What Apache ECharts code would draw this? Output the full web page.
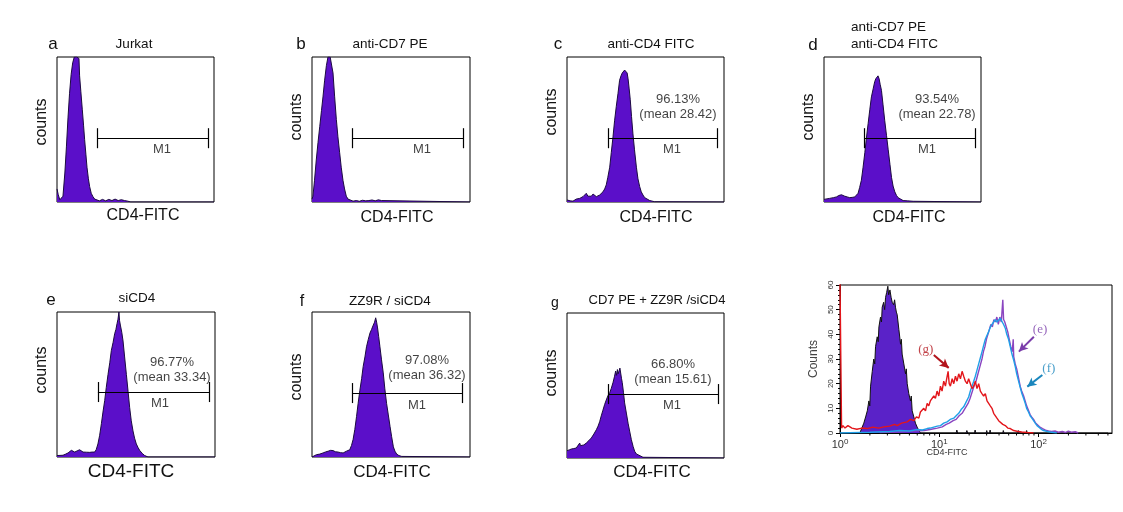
<!DOCTYPE html>
<html><head><meta charset="utf-8">
<script src="https://cdn.jsdelivr.net/npm/echarts@6/dist/echarts.min.js"></script>
<style>html,body{margin:0;padding:0;background:#fff}#c{width:1123px;height:512px}</style>
</head><body><div id="c"></div>
<script>
// ---------- DATA (x = channel position 0-100 across the plot, y = relative counts 0-100) ----------
const histA = [[0,9],[0.8,5],[1.8,1.5],[2.8,1.5],[3.8,4],[5,20],[6,38],[7,58],[8,75],[9,88],[10,96],[11,100],[12.5,100],[14,99],[14.4,87],[15.2,76],[16.1,64],[16.9,53],[17.6,43],[18.4,33],[19.1,24],[20,16],[20.8,10.6],[21.8,6],[22.9,3.7],[24,2],[25,1.4],[27,0.8],[29,1.8],[31,0.8],[33,1.8],[35,1],[37,2],[39,1],[41,1.6],[43,1],[45,0.6],[47,0],[100,0]];
const histB = [[0,2],[0.6,4],[1.6,15],[2.7,29],[3.8,41],[4.9,52],[6,63],[7,73],[8,84],[9.1,94],[10.1,100],[11.5,100],[12.7,100],[13.3,89],[14.3,73],[15.4,57],[16.4,45],[17.5,34],[18.5,24],[19.6,15],[20.6,9],[21.7,4],[22.8,2],[23.8,1],[26,0.6],[28,1],[30,0.5],[32,1.2],[34,0.8],[36,1],[38,1.4],[40,0.8],[42,1.5],[44,1],[45,0],[100,0]];
const histC = [[0,1.4],[2,0.8],[3.8,0.6],[5.9,2],[8.1,2.5],[10.2,3.7],[12.3,6],[13.3,4],[14.4,3.2],[15.5,4],[16.6,5.5],[17.6,4.5],[18.7,3.7],[19.8,4.5],[20.8,4.8],[22,6],[22.9,7],[24,9],[25,11.8],[26,17],[27.2,24],[28.2,34],[29.3,45],[30.3,56],[31.4,66],[32.5,75],[33.5,84],[34.4,87],[35.2,89],[36,88],[36.7,91],[37.2,90],[37.8,92],[38.3,89],[38.9,85],[39.6,78],[40.3,70.5],[41.1,59],[42,47],[43,36],[44.2,24],[45.2,16],[46.3,10.6],[47.3,7],[48.4,4.8],[49.5,3],[50.5,2],[52.7,1],[55.8,0.2],[57,0],[100,0]];
const histD = [[0,1.8],[3.6,2.5],[6,3],[7.9,3.5],[9.5,4.5],[11.1,5],[12.2,4.6],[13.2,4],[14.8,3.5],[16.4,3],[18,3.2],[19.6,3.5],[20.7,4.5],[21.7,6],[22.7,10],[23.8,15],[24.9,24],[26,34],[27,44],[28.1,54],[29.2,64],[30.2,72.5],[31.3,78],[32.3,83],[33,85],[33.8,86],[34.4,87],[35.1,85],[35.8,81],[36.6,77],[37.6,67],[38.7,56],[39.8,46],[40.9,36],[42,26],[43,17],[44,11],[45.1,7],[46.2,4.5],[47.2,3],[48.8,2],[50.4,1],[53,0.8],[56.8,0.5],[57.5,0],[100,0]];
const histE = [[0,1],[3.8,1.2],[5.5,2],[7,2.8],[8,3.6],[9.1,4.6],[10.1,4],[11.2,3.4],[12.7,4.2],[14.3,5],[15.4,4.2],[16.5,3.4],[18.6,3.3],[20.7,3.2],[22.2,3.4],[23.8,3.4],[24.8,5],[25.9,9],[27,15],[28.1,23],[29.1,31],[30.2,39],[31.2,48],[32.3,57],[33.4,65],[34.4,73.5],[35.5,79],[36.5,85],[37.3,88],[38,92],[38.6,95],[39.2,100],[39.6,94],[40.1,91],[41,86],[41.8,80],[42.8,69],[43.9,57],[45,45],[46,34],[47,25],[48.1,18],[49.1,13],[50.2,9],[51.3,6.5],[52.3,4.6],[53.9,2.5],[55.5,1],[57.6,0],[100,0]];
const histF = [[0,0],[1,0.8],[2.8,1.6],[4.9,2],[7,2.8],[8.6,3.5],[10.2,4],[11.8,4.6],[13.3,4.4],[14.9,3.6],[16.5,3.4],[18.1,3],[19.7,2.8],[20.8,3.4],[21.8,4],[22.9,4.5],[23.9,5],[25,8],[26,12],[27.1,19],[28.2,28],[29.2,37],[30.3,46],[31.4,54],[32.4,62.5],[33.5,69],[34.5,76],[35.6,81],[36.7,85.5],[37.7,88],[38.8,91],[39.6,93],[40.3,96],[40.9,93],[41.5,89],[42.2,83],[43,76],[44,67],[45.1,58],[46.1,47],[47.2,37],[48.3,29],[49.4,21],[50.4,14],[51.5,7],[52.5,4],[53.6,2],[55,1],[56.8,0.4],[57.5,0],[100,0]];
const histG = [[0,5],[1.4,5.6],[2.8,6.2],[4.3,6.5],[5.9,6.9],[7,8],[8.1,10.3],[8.6,8.5],[9.1,8],[10.7,9],[12.3,10.3],[13.9,12],[15.5,13.8],[17.1,16.5],[18.7,19.5],[19.8,22],[20.8,25],[21.8,29],[22.9,33],[24,37],[25,40],[26.1,43],[27.2,45],[28.2,48],[29.3,52],[30.2,56],[31,60],[31.6,57],[32.1,61],[32.6,58],[33.1,59],[33.7,62],[34.2,61],[34.7,55],[35.2,52],[36,45],[36.7,38],[37.8,31],[38.9,24],[40,18],[41,12.6],[42.1,8],[43.1,4.6],[44.2,2.8],[45.2,1.6],[48.4,0.5],[49.5,0],[100,0]];

// M1 gate: [start, end, level]
const gateA = [25.9, 96.6, 44];
const gateB = [25.3, 95.6, 44];
const gateC = [26.1, 95.5, 44];
const gateD = [25.5, 96.2, 44];
const gateE = [25.9, 96.2, 44.8];
const gateF = [25.3, 94.9, 44.1];
const gateG = [26.1, 96.2, 44.1];

const statsC = '96.13%\n(mean 28.42)';
const statsD = '93.54%\n(mean 22.78)';
const statsE = '96.77%\n(mean 33.34)';
const statsF = '97.08%\n(mean 36.32)';
const statsG = '66.80%\n(mean 15.61)';

const panelLetters = ['a','b','c','d','e','f','g'];
const panelTitles = ['Jurkat','anti-CD7 PE','anti-CD4 FITC','anti-CD7 PE\nanti-CD4 FITC','siCD4','ZZ9R / siCD4','CD7 PE + ZZ9R /siCD4'];

// Overlay panel: x = log10(CD4-FITC), y = counts
const ovControl = [[0.2,0],[0.224,2.4],[0.24,4],[0.258,6.5],[0.275,9],[0.291,13],[0.3,11],[0.308,19],[0.325,25],[0.34,30],[0.35,28],[0.358,35],[0.375,39],[0.385,37],[0.392,43],[0.408,47],[0.418,45],[0.425,51],[0.44,53],[0.45,50],[0.459,55],[0.47,57],[0.482,59.5],[0.49,56],[0.503,58],[0.515,55],[0.526,53],[0.54,52],[0.55,54],[0.559,51],[0.568,49],[0.576,48],[0.593,42],[0.61,36],[0.618,38],[0.626,32],[0.643,28],[0.66,24],[0.668,26],[0.677,20],[0.693,16],[0.71,13],[0.718,15],[0.727,9],[0.744,6.5],[0.76,4],[0.777,2.4],[0.795,1],[0.811,0],[1.17,0],[1.177,1.2],[1.185,0],[1.27,0],[1.278,1],[1.286,0],[1.355,0],[1.361,1.2],[1.368,0],[1.472,0],[1.478,1],[1.485,0],[1.506,0],[1.512,1.2],[1.518,0],[1.64,0],[1.645,1],[1.652,0],[1.79,0],[1.796,1],[1.803,0],[1.875,0],[1.88,1],[1.887,0],[2.7,0]];
const ovE = [[0.4,0.2],[0.6,0.5],[0.75,0.8],[0.85,1],[0.92,1.5],[0.98,2],[1.03,2.5],[1.07,3.5],[1.1,4],[1.14,5],[1.17,5.5],[1.2,7],[1.23,8],[1.26,10],[1.29,12],[1.31,14],[1.33,16.5],[1.35,19],[1.37,21],[1.39,24],[1.41,27],[1.43,30],[1.445,33],[1.46,35],[1.475,38],[1.49,40],[1.505,42],[1.52,44],[1.535,43],[1.55,46],[1.565,45],[1.58,47],[1.595,44],[1.61,47],[1.625,45],[1.64,54],[1.648,46],[1.66,45],[1.675,43],[1.69,41],[1.705,38],[1.72,35],[1.735,33],[1.745,38],[1.75,31],[1.765,28],[1.78,26],[1.8,22],[1.815,19],[1.83,17],[1.85,15],[1.865,13],[1.88,11],[1.9,9],[1.915,7.5],[1.93,6.5],[1.95,5.5],[1.97,4],[1.99,3.5],[2.01,2.5],[2.04,1.8],[2.07,1.2],[2.1,0.8],[2.13,0.6],[2.17,0.8],[2.2,0.3],[2.24,0.6],[2.27,0.2],[2.3,0.8],[2.33,0.3],[2.37,0.5],[2.4,0]];
const ovF = [[0,0],[0.3,0.3],[0.5,0.6],[0.6,1],[0.7,0.8],[0.777,1.4],[0.83,1.2],[0.878,1.8],[0.91,2],[0.945,2.4],[0.98,2.8],[1.012,3],[1.045,4],[1.079,4.5],[1.11,5.5],[1.146,6],[1.17,7],[1.196,8],[1.22,9.5],[1.246,10.6],[1.27,12.5],[1.296,14.6],[1.313,17],[1.33,19],[1.347,21],[1.363,23],[1.38,25.5],[1.397,28],[1.414,30.5],[1.431,33],[1.447,35.5],[1.464,38],[1.48,39.5],[1.497,41],[1.515,43],[1.531,44],[1.548,45],[1.564,46],[1.58,45],[1.598,45],[1.615,46.5],[1.631,46],[1.648,44],[1.665,42.5],[1.68,40],[1.698,38],[1.715,35],[1.732,32],[1.75,29.5],[1.765,27],[1.78,24],[1.799,21],[1.815,18.5],[1.832,16],[1.85,14],[1.866,12],[1.88,10],[1.899,8.5],[1.915,7],[1.933,6],[1.95,5],[1.967,4],[1.985,3],[2.0,2.4],[2.025,1.6],[2.05,1],[2.08,0.7],[2.117,0.4],[2.15,0.2],[2.184,0]];
const ovG = [[0,62],[0.004,62],[0.008,31],[0.012,31],[0.016,2],[0.03,3],[0.05,2],[0.08,3],[0.12,2],[0.17,1.5],[0.22,2],[0.275,1.8],[0.33,2.4],[0.39,2],[0.442,2.5],[0.5,2.8],[0.55,3.5],[0.576,3],[0.62,4],[0.677,4.5],[0.71,5.5],[0.744,5],[0.77,6.5],[0.794,6],[0.81,8.5],[0.827,8],[0.844,10],[0.861,9],[0.878,12],[0.894,11],[0.91,13],[0.928,12.6],[0.945,15],[0.961,14],[0.978,17],[0.995,15],[1.012,19],[1.028,17],[1.045,21],[1.062,19],[1.075,22],[1.089,25],[1.1,20],[1.112,19],[1.13,22],[1.146,20],[1.163,23],[1.179,21],[1.196,24],[1.213,22],[1.23,25],[1.246,23],[1.263,21],[1.28,20],[1.296,22],[1.313,20],[1.33,18],[1.347,19],[1.363,21],[1.38,18],[1.397,20],[1.414,17],[1.43,16],[1.447,15],[1.464,16],[1.481,13],[1.497,12.5],[1.514,11],[1.531,10],[1.548,8],[1.565,7.5],[1.581,6],[1.598,5],[1.615,4.5],[1.64,3.5],[1.665,3],[1.69,2],[1.715,1.8],[1.75,1],[1.782,0.7],[1.83,0.4],[1.883,0.2],[1.95,0]];
const ovYTicks = [0, 60, 10];          // min, max, step
const ovXDecades = [0, 1, 2];          // labelled decades 10^0 .. 10^2
const ovMinorTicks = [2,3,4,5,6,7,8,9,20,30,40,50,60,70,80,90,200,300,400,500];
const ovLabels = ['(g)','(e)','(f)'];

// ---------- LAYOUT ----------
const FONT = 'Liberation Sans, Arial, sans-serif';
const PURPLE = '#5B0FC9';
const hists = [histA,histB,histC,histD,histE,histF,histG];
const gates = [gateA,gateB,gateC,gateD,gateE,gateF,gateG];
const stats = [null,null,statsC,statsD,statsE,statsF,statsG];
const L = [
  {g:[57,57,157,145],  letter:[53,44,17],  title:[134,44,'center'], counts:[42,122], xn:[143,216,16], st:[70.7,65.5], m1:[66.9,36.6]},
  {g:[312,57,158,145], letter:[301,44,17], title:[390,44,'center'], counts:[297,117], xn:[397,218,16], st:null, m1:[69.6,36.6]},
  {g:[567,57,157,145], letter:[558,44,17], title:[651,44,'center'], counts:[552,112], xn:[656,218,16], st:[70.7,65.5], m1:[66.9,36.6]},
  {g:[824,57,157,145], letter:[813,45,17], title:[851,36,'left'],   counts:[809,117], xn:[909,218,16], st:[72,65.5], m1:[65.6,36.6]},
  {g:[57,312,158,145], letter:[51,300,17], title:[137,298,'center'],counts:[42,370], xn:[131,472,19], st:[72.8,60.3], m1:[65.2,37.2]},
  {g:[312,312,158,145],letter:[302,302,16],title:[390,301,'center'],counts:[297,377], xn:[392,472,17], st:[72.8,61.4], m1:[66.5,35.9]},
  {g:[567,313,157,145],letter:[555,303,14],title:[657,300,'center'],counts:[552,373], xn:[652,472,17], st:[67.5,59.7], m1:[66.9,36.6]}
];
const OV = {g:[840,285,272,148]};

const grid=[], xAxis=[], yAxis=[], series=[], graphic=[];
const txt = (x,y,text,size,opt={}) => graphic.push(Object.assign({type:'text', x, y, silent:true,
  style:{text, fontSize:size, fontFamily:FONT, fill:'#111', align:opt.align||'center', verticalAlign:'middle', lineHeight:opt.lh||size+3}}, opt.rot?{rotation:opt.rot}:{}));

L.forEach((p,i)=>{
  grid.push({left:p.g[0], top:p.g[1], width:p.g[2], height:p.g[3], show:true, borderColor:'#000', borderWidth:1, backgroundColor:'transparent'});
  xAxis.push({type:'value', gridIndex:i, min:0, max:100, show:false});
  yAxis.push({type:'value', gridIndex:i, min:0, max:100, show:false});
  const gt = gates[i], cap = 6.9;
  series.push({type:'line', xAxisIndex:i, yAxisIndex:i, data:hists[i], symbol:'none', clip:true,
    lineStyle:{color:'#1c0a40', width:1}, areaStyle:{color:PURPLE, opacity:1},
    markLine:{silent:true, symbol:['none','none'], label:{show:false}, lineStyle:{color:'#000', width:1.2, type:'solid'},
      data:[[{coord:[gt[0],gt[2]]},{coord:[gt[1],gt[2]]}],
            [{coord:[gt[0],gt[2]-cap]},{coord:[gt[0],gt[2]+cap]}],
            [{coord:[gt[1],gt[2]-cap]},{coord:[gt[1],gt[2]+cap]}]]}});
  const labs = [{name:'M1', value:p.m1}];
  if (stats[i]) labs.push({name:stats[i], value:p.st});
  series.push({type:'scatter', xAxisIndex:i, yAxisIndex:i, symbolSize:0, silent:true, data:labs,
    label:{show:true, position:'inside', formatter:'{b}', color:'#111', fontSize:13, fontFamily:FONT, lineHeight:15}});
  txt(p.letter[0], p.letter[1], panelLetters[i], p.letter[2]);
  txt(p.title[0], p.title[1], panelTitles[i], i===6?13:13.5, {align:p.title[2], lh:17});
  txt(p.counts[0], p.counts[1], 'counts', 16, {rot:Math.PI/2});
  txt(p.xn[0], p.xn[1], 'CD4-FITC', p.xn[2]);
});

// ---------- overlay panel ----------
const oi = 7;
grid.push({left:OV.g[0], top:OV.g[1], width:OV.g[2], height:OV.g[3], show:true, borderColor:'#000', borderWidth:1});
xAxis.push({type:'value', gridIndex:oi, min:0, max:2.74, interval:1,
  axisLine:{lineStyle:{color:'#000'}}, axisTick:{length:4, lineStyle:{color:'#000'}}, splitLine:{show:false},
  axisLabel:{margin:5, showMaxLabel:false, color:'#333', fontFamily:FONT,
    formatter:v=> ovXDecades.indexOf(v)>=0 ? '{b|10}{s|'+v+'}' : '',
    rich:{b:{fontSize:11, color:'#333', fontFamily:FONT}, s:{fontSize:8, color:'#333', fontFamily:FONT, verticalAlign:'bottom', padding:[0,0,6,0]}}}});
yAxis.push({type:'value', gridIndex:oi, min:ovYTicks[0], max:ovYTicks[1], interval:ovYTicks[2],
  name:'Counts', nameLocation:'middle', nameGap:20, nameTextStyle:{fontSize:12, color:'#444', fontFamily:FONT},
  axisLine:{show:true, lineStyle:{color:'#000'}}, axisTick:{show:true, length:4, lineStyle:{color:'#000'}},
  minorTick:{show:true, splitNumber:5, length:2, lineStyle:{color:'#000'}}, splitLine:{show:false},
  axisLabel:{rotate:90, fontSize:8, margin:5, color:'#333', fontFamily:FONT}});
series.push({type:'line', xAxisIndex:oi, yAxisIndex:oi, data:ovControl, symbol:'none', clip:true,
  lineStyle:{color:'#111', width:1}, areaStyle:{color:'#5a22c8', opacity:1}});
series.push({type:'line', xAxisIndex:oi, yAxisIndex:oi, data:ovE, symbol:'none', clip:true,
  lineStyle:{color:'#8a45c0', width:1.4},
  markLine:{silent:true, symbol:['none','arrow'], symbolSize:[7,9], label:{show:false}, lineStyle:{color:'#7A3DAA', width:2, type:'solid'},
    data:[[{coord:[1.953,39]},{coord:[1.802,33]}]]}});
series.push({type:'line', xAxisIndex:oi, yAxisIndex:oi, data:ovF, symbol:'none', clip:true,
  lineStyle:{color:'#1f9fe8', width:1.4},
  markLine:{silent:true, symbol:['none','arrow'], symbolSize:[7,9], label:{show:false}, lineStyle:{color:'#1a86bd', width:2, type:'solid'},
    data:[[{coord:[2.038,23.5]},{coord:[1.887,18.8]}]]}});
series.push({type:'line', xAxisIndex:oi, yAxisIndex:oi, data:ovG, symbol:'none', clip:true,
  lineStyle:{color:'#e3161b', width:1.4},
  markLine:{silent:true, symbol:['none','arrow'], symbolSize:[7,9], label:{show:false}, lineStyle:{color:'#b3141c', width:2, type:'solid'},
    data:[[{coord:[0.945,31.6]},{coord:[1.095,26.4]}]]}});
const ovLabelColors = ['#b3141c','#7A3DAA','#1a86bd'];
const ovLabelPos = [[0.864,33.9],[2.015,41.8],[2.104,26]];
series.push({type:'scatter', xAxisIndex:oi, yAxisIndex:oi, symbolSize:0, silent:true,
  data: ovLabels.map((t,k)=>({name:t, value:ovLabelPos[k], label:{color:ovLabelColors[k]}})),
  label:{show:true, position:'inside', formatter:'{b}', fontSize:13, fontFamily:'Liberation Serif, Times New Roman, serif'}});
series.push({type:'custom', xAxisIndex:oi, yAxisIndex:oi, silent:true, clip:false,
  data: ovMinorTicks.map(v=>[Math.log10(v)]),
  renderItem:(params, api)=>{ const p = api.coord([api.value(0), 0]);
    return {type:'line', shape:{x1:p[0], y1:p[1], x2:p[0], y2:p[1]+2.5}, style:{stroke:'#000', lineWidth:1}}; }});
txt(947, 453, 'CD4-FITC', 9, {});
graphic[graphic.length-1].style.fill = '#333';

const chart = echarts.init(document.getElementById('c'), null, {renderer:'canvas'});
chart.setOption({backgroundColor:'#fff', animation:false, grid, xAxis, yAxis, series, graphic});
</script></body></html>
